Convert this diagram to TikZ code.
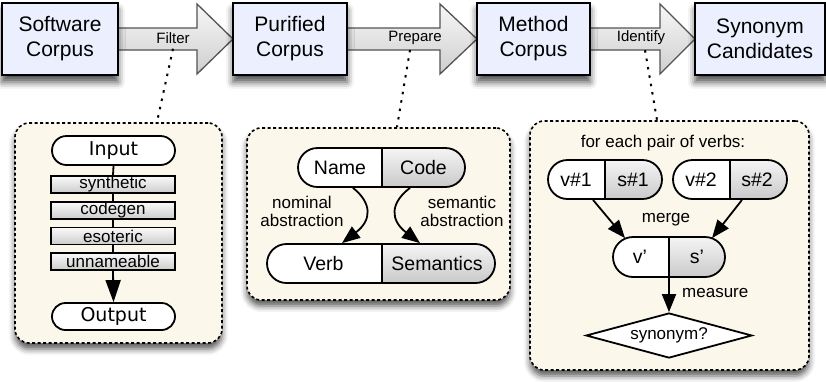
\documentclass[tikz,border=0pt]{standalone}
\usepackage{fontspec}
\setmainfont{Liberation Sans}
\newfontfamily\dvfont{DejaVu Sans}
\usetikzlibrary{shapes.geometric,shapes.misc,arrows.meta,shadows.blur,calc}
\definecolor{boxblue}{RGB}{236,240,254}
\definecolor{cream}{RGB}{252,247,235}
\tikzset{
 topbox/.style={draw=black, line width=2pt, fill=boxblue, minimum width=115pt, minimum height=72pt, inner sep=0pt, align=center,
   font=\fontsize{21}{25}\selectfont,
   blur shadow={shadow xshift=0pt, shadow yshift=-7pt, shadow blur radius=7pt, shadow opacity=70}},
 blockarrow/.style={draw=gray!65!black, line width=1.3pt, top color=gray!6, bottom color=gray!38},
 arrlabel/.style={font=\fontsize{15}{17}\selectfont, inner sep=1pt},
 dotline/.style={line width=2pt, dash pattern=on 2.5pt off 6pt},
 panel/.style={draw=black, line width=1.6pt, dash pattern=on 3pt off 2.5pt, fill=cream, rounded corners=14pt,
   blur shadow={shadow xshift=0pt, shadow yshift=-6pt, shadow blur radius=6pt, shadow opacity=65}},
 fstep/.style={draw=black, line width=1.4pt, top color=gray!4, bottom color=gray!40, minimum width=124pt, minimum height=17pt, inner sep=0pt,
   font=\fontsize{17}{17}\selectfont},
 pill/.style={rounded rectangle, draw=black, line width=1.8pt, fill=white, inner sep=0pt},
 splitpill/.style={pill, path picture={
   \shade[top color=gray!8, bottom color=gray!42] ([xshift=#1]path picture bounding box.north west) rectangle (path picture bounding box.south east);
   \draw[line width=1.8pt] ([xshift=#1]path picture bounding box.north west) -- ([xshift=#1]path picture bounding box.south west);}},
 io/.style={pill, font=\dvfont\fontsize{19}{20}\selectfont, minimum width=123pt},
 ptext/.style={font=\fontsize{19.5}{20}\selectfont, inner sep=0pt},
 stext/.style={font=\fontsize{17}{18.5}\selectfont, inner sep=0pt, align=center},
 conn/.style={line width=1.8pt, -{Triangle[length=18pt,width=14pt]}},
}
\begin{document}
\begin{tikzpicture}[x=1pt,y=-1pt]
\useasboundingbox (0,0) rectangle (826,381);

% block arrows
\draw[blockarrow] (117,28) -- (197,28) -- (197,4) -- (233,39) -- (197,74) -- (197,50) -- (117,50) -- cycle;
\draw[blockarrow] (346,28) -- (440,28) -- (440,4) -- (477,39) -- (440,74) -- (440,50) -- (346,50) -- cycle;
\draw[blockarrow] (589,28) -- (660,28) -- (660,4) -- (695,39) -- (660,74) -- (660,50) -- (589,50) -- cycle;

\node[arrlabel] (filt) at (173,38) {Filter};
\node[arrlabel] (prep) at (415,38) {Prepare};
\node[arrlabel] (iden) at (641,38) {Identify};

% top boxes
\node[topbox, minimum width=116pt] (sc) at (60,39) {Software\\Corpus};
\node[topbox, minimum width=114pt] (pc) at (290,39) {Purified\\Corpus};
\node[topbox, minimum width=113pt] (mc) at (533.5,39) {Method\\Corpus};
\node[topbox, minimum width=130pt] (cand) at (760,39) {Synonym\\Candidates};

% panels
\node[panel, minimum width=207pt, minimum height=220pt] (p1) at (118.5,233) {};
\node[panel, minimum width=263pt, minimum height=172pt] (p2) at (378.5,214) {};
\node[panel, minimum width=279pt, minimum height=249pt] (p3) at (669.5,245.5) {};

% dotted leaders
\coordinate (d1) at (157,122);
\coordinate (d2) at (397,127);
\coordinate (d3) at (657,120);
\draw[dotline] (filt.south) ++(0,4) -- (d1);
\draw[dotline] (prep.south) ++(-5,4) -- (d2);
\draw[dotline] (iden.south) ++(4,4) -- (d3);

% panel 1
\node[io, minimum height=29pt] (in) at (113.5,150.5) {Input};
\node[io, minimum height=27pt] (out) at (113.5,316.5) {Output};
\node[fstep] (f1) at (113,184.5) {synthetic};
\node[fstep] (f2) at (113,210.5) {codegen};
\node[fstep] (f3) at (113,236) {esoteric};
\node[fstep] (f4) at (113,261.5) {unnameable};
\draw[line width=1.8pt] (in.south) -- (f1.north);
\draw[line width=1.8pt] (f1.south) -- (f2.north);
\draw[line width=1.8pt] (f2.south) -- (f3.north);
\draw[line width=1.8pt] (f3.south) -- (f4.north);
\draw[line width=1.8pt, -{Triangle[length=22pt,width=15pt]}] (f4.south) -- (out.north);

% panel 2
\node[splitpill=84pt, minimum width=167pt, minimum height=39pt] (nc) at (381.5,167.5) {};
\node[ptext] (nm) at (340,167.5) {Name};
\node[ptext] (cd) at (423.5,167.5) {Code};
\node[splitpill=115pt, minimum width=228pt, minimum height=39pt] (vs) at (381,263.5) {};
\node[ptext] (vb) at (323.5,263.5) {Verb};
\node[ptext] (sm) at (437,263.5) {Semantics};
\draw[conn] ($(nc.south)+(-28.5,0)$) .. controls (372,203) and (372,220) .. ($(vs.north)+(-39,0)$);
\draw[conn] ($(nc.south)+(28.5,0)$) .. controls (390,203) and (390,220) .. ($(vs.north)+(39,0)$);
\node[stext] (nom) at (302,211.5) {nominal\\abstraction};
\node[stext] (sem) at (462,211.5) {semantic\\abstraction};

% panel 3
\node[stext] (fe) at (663,143) {for each pair of verbs:};
\node[splitpill=57pt, minimum width=114pt, minimum height=39pt] (p31) at (605,179.5) {};
\node[ptext] (v1) at (576,179.5) {v\#1};
\node[ptext] (s1) at (633,179.5) {s\#1};
\node[splitpill=57pt, minimum width=114pt, minimum height=39pt] (p32) at (730,179.5) {};
\node[ptext] (v2) at (701,179.5) {v\#2};
\node[ptext] (s2) at (757,179.5) {s\#2};
\node[splitpill=56pt, minimum width=112pt, minimum height=40pt] (pm) at (669,257) {};
\node[ptext] (vp) at (640,257) {v\char"27};
\node[ptext] (sp) at (697,257) {s\char"27};
\node[stext] (mg) at (666,220) {merge};
\node[diamond, draw=black, line width=1.8pt, fill=white, minimum width=166pt, minimum height=45pt, aspect=3.7, inner sep=0pt,
  font=\fontsize{17}{18}\selectfont] (syn) at (669,335.5) {synonym?};
\draw[conn] ($(p31.south)+(-12,0)$) -- ($(pm.north)+(-44,2)$);
\draw[conn] ($(p32.south)+(12,0)$) -- ($(pm.north)+(43,2)$);
\draw[conn] (pm.south) -- (syn.north);
\node[stext, anchor=west] (ms) at (682,293) {measure};
\end{tikzpicture}
\end{document}
